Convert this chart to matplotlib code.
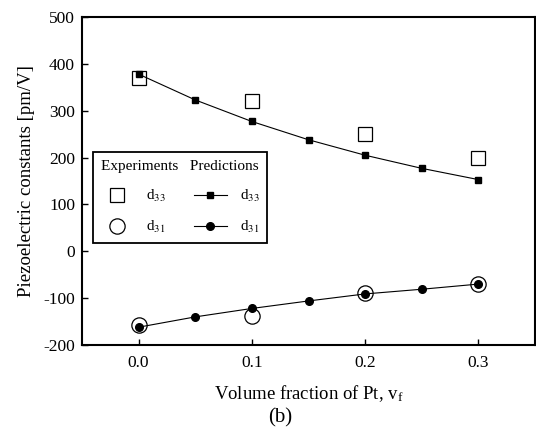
import matplotlib.pyplot as plt

plt.rcParams['font.family'] = ['Liberation Serif', 'DejaVu Serif']
plt.rcParams['mathtext.fontset'] = 'stix'
plt.rcParams['axes.unicode_minus'] = False

# volume fraction of Pt
x_pred = [0.0, 0.05, 0.10, 0.15, 0.20, 0.25, 0.30]
x_exp = [0.0, 0.10, 0.20, 0.30]

# predictions [pm/V]
d33_pred = [378, 323, 277, 238, 205, 177, 153]
d31_pred = [-162, -140, -122, -106, -91, -81, -70]

# experiments [pm/V]
d33_exp = [370, 320, 250, 200]
d31_exp = [-158, -139, -89, -70]

x_ticks = [0.0, 0.1, 0.2, 0.3]
x_tick_labels = ['0.0', '0.1', '0.2', '0.3']
y_ticks = [-200, -100, 0, 100, 200, 300, 400, 500]

fig = plt.figure(figsize=(5.36, 4.38), dpi=100)
ax = fig.add_axes([82 / 536, 1 - 345 / 438, 453 / 536, 328 / 438])

sq_exp, = ax.plot(x_exp, d33_exp, 's', ms=10, mfc='white', mec='black', mew=0.9, ls='none')
ci_exp, = ax.plot(x_exp, d31_exp, 'o', ms=11, mfc='white', mec='black', mew=0.9, ls='none')
sq_pred, = ax.plot(x_pred, d33_pred, 's-', ms=5, color='black', lw=0.8)
ci_pred, = ax.plot(x_pred, d31_pred, 'o-', ms=5.5, color='black', lw=0.8)

ax.set_xlim(-0.05, 0.35)
ax.set_ylim(-200, 500)
ax.set_xticks(x_ticks)
ax.set_xticklabels(x_tick_labels)
ax.set_yticks(y_ticks)
ax.tick_params(direction='in', length=4, width=1, labelsize=12.5, colors='black')
ax.tick_params(axis='x', pad=7)
ax.tick_params(axis='y', pad=5)
for s in ax.spines.values():
    s.set_linewidth(1.5)

ax.set_xlabel('Volume fraction of Pt, v$_\\mathregular{f}$', fontsize=13.5, labelpad=9)
ax.set_ylabel('Piezoelectric constants [pm/V]', fontsize=13.5, labelpad=6)

leg = ax.legend([sq_exp, ci_exp, sq_pred, ci_pred],
                ['d$_{33}$', 'd$_{31}$', 'd$_{33}$', 'd$_{31}$'],
                ncol=2, loc='lower left', bbox_to_anchor=(0.024, 0.311),
                borderaxespad=0, fancybox=False, framealpha=1, edgecolor='black',
                title='Experiments   Predictions', title_fontsize=11, fontsize=11,
                alignment='left', handlelength=2.2, columnspacing=1.8,
                labelspacing=1.0, borderpad=0.5)
leg.get_frame().set_linewidth(1.3)

fig.text(0.522, 1 - 418 / 438, '(b)', ha='center', va='center', fontsize=15)

fig.savefig('out.png', dpi=100)
